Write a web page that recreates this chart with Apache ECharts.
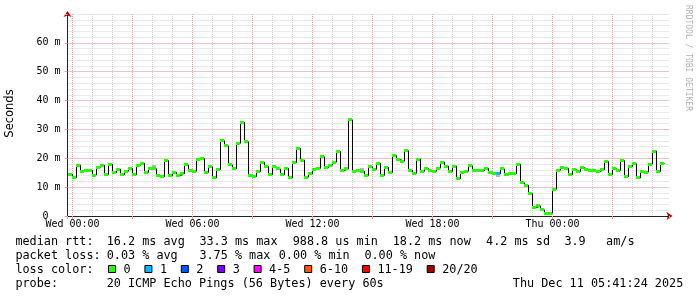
<!DOCTYPE html>
<html><head><meta charset="utf-8">
<script src="https://cdn.jsdelivr.net/npm/echarts@6/dist/echarts.min.js"></script>
<style>html,body{margin:0;padding:0;background:#fff;}#c{width:697px;height:297px;}</style>
</head><body><div id="c"></div>
<script>
// ---- data (hours relative to Wed 00:00; one median value per 12-minute step) ----
const firstStepHour = -0.4;
const stepHours = 0.2;
const medianMs = [
 14.4,14.4,
 13.3,17.6,15.4,15.8,15.8,14.2,16.9,17.6,14.4,17.9,15.0,16.2,14.3,15.5,16.4,14.3,17.6,18.3,
 15.1,16.4,16.4,14.0,13.6,19.2,14.0,15.1,14.0,14.6,17.7,15.9,15.5,19.7,19.9,15.1,17.0,13.2,
 16.1,26.1,24.3,17.7,16.3,25.2,32.4,25.7,14.1,13.7,15.4,18.6,17.2,14.3,17.0,16.3,14.3,16.5,
 13.2,18.5,23.4,19.4,13.5,14.6,16.2,16.5,20.5,16.8,17.6,18.7,22.3,15.8,16.3,33.3,15.4,15.8,
 15.5,14.0,17.0,16.2,18.3,14.1,16.8,15.1,20.9,19.5,19.0,22.6,15.9,14.8,19.7,15.5,16.4,15.7,
 15.5,16.6,18.7,17.3,15.4,17.3,13.0,15.1,15.5,17.4,15.7,15.8,15.7,16.5,15.2,14.8,14.6,16.3,
 14.3,14.7,14.7,17.9,11.5,10.7,7.8,2.9,3.5,2.1,1.0,0.99,9.3,15.9,16.7,16.5,14.3,16.0,15.4,
 16.7,16.1,15.8,15.8,15.5,16.1,18.9,14.5,16.3,15.8,19.2,13.7,17.2,18.1,13.2,15.4,15.2,18.0,
 22.5,15.4,18.2
];
// lost pings (of 20) per step; only one step had a loss
const lossStepIndex = [108];
const lossStepValue = [1];
// visible ping spread ("smoke") where it sticks out of the median band
const smokeStepIndex = [22, 74, 108];
const smokeLowMs  = [16.8, 15.8, 13.6];
const smokeHighMs = [17.6, 16.8, 14.4];

const xAxisMin = -0.25, xAxisMax = 29.85;
const yAxisMin = 0, yAxisMax = 70;
const xTickLabels = {0:'Wed 00:00', 6:'Wed 06:00', 12:'Wed 12:00', 18:'Wed 18:00', 24:'Thu 00:00'};
const lossLabels = ['0','1','2','3','4-5','6-10','11-19','20/20'];
const lossColors = ['#26ff00','#00b8ff','#0059ff','#7e00ff','#ff00ff','#ff5500','#ff0000','#a10000'];
const statsLine1 = [['median rtt:',16],['16.2 ms avg',107.3],['33.3 ms max',200],['988.8 us min',293.3],['18.2 ms now',393.3],['4.2 ms sd',486.7],['3.9',565],['am/s',606.7]];
const statsLine2 = [['packet loss:',16],['0.03 % avg',107.3],['3.75 % max',200],['0.00 % min',279.3],['0.00 % now',365]];
const probeText = '20 ICMP Echo Pings (56 Bytes) every 60s';
const dateText = 'Thu Dec 11 05:41:24 2025';

// ---- build ----
const lossCount = medianMs.map(() => 0);
lossStepIndex.forEach((k, j) => { lossCount[k] = lossStepValue[j]; });
function lossIdx(n){ if(n<=3) return n; if(n<=5) return 4; if(n<=10) return 5; if(n<=19) return 6; return 7; }
const xs = medianMs.map((_, i) => firstStepHour + i*stepHours);
const stepLine = xs.map((x,i)=>[x, medianMs[i]]);
stepLine.push([xs[xs.length-1] + stepHours, medianMs[medianMs.length-1]]);
const bands = xs.map((x,i)=>[x, x+stepHours, medianMs[i], lossCount[i]]);
const smoke = smokeStepIndex.map((k,j)=>[xs[k], xs[k]+stepHours, smokeLowMs[j], smokeHighMs[j]]);

const GRAY = '#d2d2d2', RED = '#e6a3a3', AXIS = '#222222', ARROW = '#b00000';
const MONO = '"DejaVu Sans Mono", monospace';
const LFONT = '11.8px ' + MONO;
const lineMid = [241.6, 255.8, 270.0, 284.2];

const graphic = [];
function addText(t, x, y, extra){ graphic.push(Object.assign({type:'text', x:x, y:y, silent:true,
  style:{text:t, font:LFONT, fill:'#000', align:'left', verticalAlign:'middle'}}, extra||{})); }
statsLine1.forEach(([t,x]) => addText(t, x-0.6, lineMid[0]));
statsLine2.forEach(([t,x]) => addText(t, x-0.6, lineMid[1]));
addText('loss color:', 15.4, lineMid[2]);
let lx = 108.5;
lossLabels.forEach((lab, i) => {
  graphic.push({type:'rect', silent:true, shape:{x:lx, y:265.5, width:7, height:7},
    style:{fill:lossColors[i], stroke:'#000', lineWidth:1}});
  addText(lab, lx + 15, lineMid[2]);
  lx += 29.3 + 7.1*lab.length;
});
addText('probe:', 15.4, lineMid[3]);
addText(probeText, 106.7, lineMid[3]);
addText(dateText, 512.8, lineMid[3]);
graphic.push({type:'text', x:10, y:113.5, rotation:Math.PI/2, silent:true,
  style:{text:'Seconds', font:'11.5px "DejaVu Sans", sans-serif', fill:'#000', align:'center', verticalAlign:'middle'}});
graphic.push({type:'text', x:688, y:5, rotation:-Math.PI/2, silent:true,
  style:{text:'RRDTOOL / TOBI OETIKER', font:'8px ' + MONO, fill:'#b4b4b4', align:'left', verticalAlign:'middle'}});

const grid = {left:67.5, top:14, width:602, height:202, outerBoundsMode:'none', containLabel:false};
const dotted = (c) => ({color:c, width:1, type:[1,1], dashOffset:0});

function stepRect(params, api, lowVal, highVal, thick){
  const a = api.coord([api.value(0), lowVal]);
  const b = api.coord([api.value(1), highVal]);
  const cs = params.coordSys;
  let x0 = Math.floor(a[0]), x1 = Math.floor(b[0]);
  x0 = Math.max(x0, Math.ceil(cs.x)); x1 = Math.min(x1, Math.floor(cs.x + cs.width));
  if (x1 <= x0) return null;
  if (thick) return {x:x0, y:Math.round(a[1]-thick/2), width:x1-x0, height:thick};
  const y0 = Math.round(b[1]), y1 = Math.round(a[1]);
  return {x:x0, y:y0, width:x1-x0, height:Math.max(1, y1-y0)};
}

const option = {
  animation:false,
  backgroundColor:'#fff',
  grid: grid,
  graphic: graphic,
  xAxis: [
    {type:'value', z:0, min:xAxisMin, max:xAxisMax, minInterval:1, maxInterval:1, position:'bottom',
     axisLine:{show:true, onZero:false, symbol:['none','arrow'], symbolSize:[6,6], symbolOffset:[0,3], lineStyle:{color:ARROW, width:1}},
     axisTick:{show:false}, axisLabel:{show:false},
     splitLine:{show:true, showMinLine:false, showMaxLine:false, lineStyle:dotted(GRAY)}},
    {type:'value', z:1, min:xAxisMin, max:xAxisMax, minInterval:3, maxInterval:3, position:'bottom',
     axisLine:{show:true, onZero:false, lineStyle:{color:AXIS, width:1}},
     axisTick:{show:true, length:3, lineStyle:{color:RED}},
     axisLabel:{show:true, margin:8, verticalAlign:'middle', color:'#000', fontFamily:MONO, fontSize:10,
       showMinLabel:true, showMaxLabel:true, hideOverlap:false,
       formatter:(v)=> { const r = Math.round(v); return (Math.abs(v-r)<1e-6 && xTickLabels[r]!==undefined) ? xTickLabels[r] : ''; }},
     splitLine:{show:true, showMinLine:false, showMaxLine:false, lineStyle:dotted(RED)}}
  ],
  yAxis: [
    {type:'value', z:0, min:yAxisMin, max:yAxisMax, interval:2,
     axisLine:{show:true, onZero:false, symbol:['none','arrow'], symbolSize:[6,6], symbolOffset:[0,3], lineStyle:{color:ARROW, width:1}},
     axisTick:{show:false}, axisLabel:{show:false},
     splitLine:{show:true, showMinLine:false, lineStyle:dotted(GRAY)}},
    {type:'value', z:1, min:yAxisMin, max:yAxisMax, interval:10, position:'left',
     axisLine:{show:true, onZero:false, lineStyle:{color:AXIS, width:1}},
     axisTick:{show:true, length:3, lineStyle:{color:RED}},
     axisLabel:{show:true, margin:7, color:'#000', fontFamily:MONO, fontSize:10, showMinLabel:true, showMaxLabel:true, hideOverlap:false,
       formatter:(v)=> v===0 ? '0  ' : (v===yAxisMax ? '' : v + ' m')},
     splitLine:{show:true, showMinLine:false, showMaxLine:false, lineStyle:dotted(RED)}}
  ],
  series: [
    {type:'custom', xAxisIndex:0, yAxisIndex:0, data:smoke, z:2, silent:true, clip:true,
     encode:{x:[0,1], y:[2,3]},
     renderItem:(params, api) => {
       const s = stepRect(params, api, api.value(2), api.value(3), 0);
       return s ? {type:'rect', shape:s, style:{fill:'#b4b4b4'}} : null;
     }},
    {type:'line', xAxisIndex:0, yAxisIndex:0, data:stepLine, step:'end', showSymbol:false, symbol:'none',
     lineStyle:{color:'#000', width:1}, z:3, silent:true, clip:true},
    {type:'custom', xAxisIndex:0, yAxisIndex:0, data:bands, z:4, silent:true, clip:true,
     encode:{x:[0,1], y:2},
     renderItem:(params, api) => {
       const s = stepRect(params, api, api.value(2), api.value(2), 3);
       return s ? {type:'rect', shape:s, style:{fill:lossColors[lossIdx(api.value(3))]}} : null;
     }}
  ]
};
const chart = echarts.init(document.getElementById('c'), null, {renderer:'canvas', width:697, height:297});
chart.setOption(option);
</script></body></html>
